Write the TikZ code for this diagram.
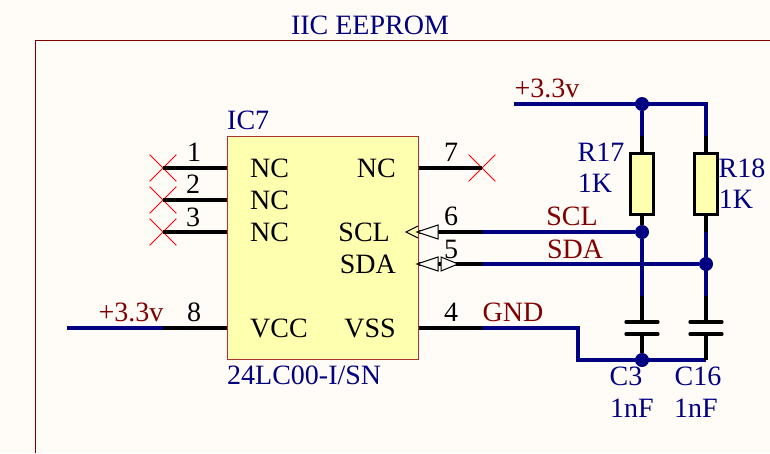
\documentclass[tikz,border=0pt]{standalone}
\usepackage{fontspec}
\setmainfont{Liberation Serif}
\usetikzlibrary{shapes.misc,calc}

\definecolor{paper}{HTML}{FFFCF8}
\definecolor{wireblue}{HTML}{000080}
\definecolor{netred}{HTML}{800000}
\definecolor{chipfill}{HTML}{FFFFB0}
\definecolor{chipedge}{HTML}{AA3333}

\begin{document}
\begin{tikzpicture}[x=1pt,y=-1pt]
    \tikzstyle{every node}=[inner sep=0pt,font=\fontsize{28}{28}\selectfont,
                            text height=18pt,text depth=0pt]
    \tikzstyle{wire}=[draw=wireblue,line width=3.3pt]
    \tikzstyle{pinline}=[draw=black,line width=3.3pt]
    \tikzstyle{plate}=[draw=black,line width=3.3pt,line cap=round]
    \tikzstyle{pinarrow}=[draw=black,line width=1pt,fill=paper]
    \tikzstyle{chip}=[draw=chipedge,line width=1pt,fill=chipfill,minimum width=191pt,minimum height=223pt,text height=,text depth=]
    \tikzstyle{resbody}=[draw=black,line width=3.3pt,fill=chipfill,minimum width=23pt,minimum height=61pt,text height=,text depth=]
    \tikzstyle{nocross}=[cross out,draw=red,line width=.8pt,minimum size=26pt,text height=,text depth=]
    \tikzstyle{junction}=[circle,fill=wireblue,minimum size=14pt,text height=,text depth=]
    \tikzstyle{partlabel}=[text=wireblue]
    \tikzstyle{netlabel}=[text=netred]

    \useasboundingbox[fill=paper] (0,0) rectangle (770,453);

    % Draw sheet frame and title
    \coordinate (frametr) at (770,40.5);
    \coordinate (frametl) at (35,40.5);
    \coordinate (framebl) at (35,453);
    \draw[draw=netred,line width=1pt] (frametr) -- (frametl) -- (framebl);
    \node[partlabel] (title) at (370,25) {IIC EEPROM};

    % Draw chip body
    \node[chip] (ic) at (322.5,247.5) {};
    \node[partlabel,anchor=west] (icname) at (227,120) {IC7};
    \node[partlabel,anchor=west] (icpart) at (227,375) {24LC00-I/SN};

    % Draw pin names inside the chip
    \node[anchor=west] (nc1) at (250,168) {NC};
    \node[anchor=west] (nc2) at (250,200) {NC};
    \node[anchor=west] (nc3) at (250,232) {NC};
    \node[anchor=west] (vcc) at (250,328) {VCC};
    \node[anchor=east] (nc7) at (396,168) {NC};
    \node[anchor=east] (scl) at (390,232) {SCL};
    \node[anchor=east] (sda) at (396,264) {SDA};
    \node[anchor=east] (vss) at (396,328) {VSS};

    % Draw unconnected pins
    \node[nocross] (x1) at (163,168) {};
    \node[nocross] (x2) at (163,200) {};
    \node[nocross] (x3) at (163,232) {};
    \node[nocross] (x7) at (482,168) {};
    \draw[pinline] (x1.center) -- (x1.center -| ic.west);
    \draw[pinline] (x2.center) -- (x2.center -| ic.west);
    \draw[pinline] (x3.center) -- (x3.center -| ic.west);
    \draw[pinline] (x7.center) -- (x7.center -| ic.east);

    % Draw remaining pins
    \coordinate (pin8) at (163,328);
    \coordinate (pin6) at (482,232);
    \coordinate (pin5) at (482,264);
    \coordinate (pin4) at (482,328);
    \draw[pinline] (pin8) -- (pin8 -| ic.west);
    \draw[pinline] (pin6) -- (pin6 -| ic.east);
    \draw[pinline] (pin5) -- (pin5 -| ic.east);
    \draw[pinline] (pin4) -- (pin4 -| ic.east);

    % Draw pin direction marks
    \draw[pinarrow] (417,232) -- (438,225) -- (438,239) -- cycle;
    \draw[draw=black,line width=1pt] (418,226) -- (406,232) -- (418,238);
    \draw[pinarrow] (417,264) -- (438,257) -- (438,271) -- cycle;
    \draw[pinarrow] (458,264) -- (441,257) -- (441,271) -- cycle;

    % Draw pin numbers
    \node (n1) at (194,152) {1};
    \node (n2) at (193,184) {2};
    \node (n3) at (193,217) {3};
    \node (n8) at (194,312) {8};
    \node (n7) at (451,152) {7};
    \node (n6) at (451,216) {6};
    \node (n5) at (451,249) {5};
    \node (n4) at (451,312) {4};

    % Draw resistors
    \node[resbody] (r17) at (642,184) {};
    \node[resbody] (r18) at (706,184) {};
    \node[partlabel] (r17name) at (601,152) {R17};
    \node[partlabel] (r17val) at (595,183) {1K};
    \node[partlabel] (r18name) at (742,168) {R18};
    \node[partlabel] (r18val) at (736,199) {1K};

    % Draw capacitors
    \coordinate (c3top) at (642,322);
    \coordinate (c3bot) at (642,334);
    \coordinate (c16top) at (706,322);
    \coordinate (c16bot) at (706,334);
    \draw[plate] ($(c3top)+(-16,0)$) -- ($(c3top)+(16,0)$);
    \draw[plate] ($(c3bot)+(-16,0)$) -- ($(c3bot)+(16,0)$);
    \draw[plate] ($(c16top)+(-16,0)$) -- ($(c16top)+(16,0)$);
    \draw[plate] ($(c16bot)+(-16,0)$) -- ($(c16bot)+(16,0)$);
    \node[partlabel] (c3name) at (626,376) {C3};
    \node[partlabel] (c3val) at (632,408) {1nF};
    \node[partlabel] (c16name) at (698,376) {C16};
    \node[partlabel] (c16val) at (696,408) {1nF};

    % Draw nets
    \coordinate (vddl) at (67,328);
    \coordinate (vddr) at (514,104);
    \coordinate (vddcorner) at (706,104);
    \coordinate (gndknee) at (578,328);
    \coordinate (gndleft) at (578,360);
    \coordinate (gndright) at (706,360);
    \node[junction] (jvdd) at (642,104) {};
    \node[junction] (jscl) at (642,232) {};
    \node[junction] (jsda) at (706,264) {};
    \node[junction] (jgnd) at (642,360) {};
    \draw[wire] (vddl) -- (pin8);
    \draw[wire] (vddr) -- (vddcorner) -- (706,136);
    \draw[wire] (jvdd) -- (642,136);
    \draw[wire] (pin6) -- (jscl);
    \draw[wire] (pin5) -- (jsda);
    \draw[wire] (jscl) -- (642,296);
    \draw[wire] (706,232) -- (706,296);
    \draw[wire,line join=miter] (pin4) -- (gndknee) -- (gndleft) -- (gndright);
    \draw[pinline] (642,136) -- (r17.north);
    \draw[pinline] (706,136) -- (r18.north);
    \draw[pinline] (r17.south) -- (jscl);
    \draw[pinline] (r18.south) -- (706,232);
    \draw[pinline] (642,296) -- (c3top);
    \draw[pinline] (706,296) -- (c16top);
    \draw[pinline] (c3bot) -- (jgnd);
    \draw[pinline] (c16bot) -- (gndright);

    % Draw net labels
    \node[netlabel] (vddlabel1) at (131,312) {+3.3v};
    \node[netlabel] (vddlabel2) at (547,88) {+3.3v};
    \node[netlabel] (scllabel) at (572,216) {SCL};
    \node[netlabel] (sdalabel) at (575,249) {SDA};
    \node[netlabel] (gndlabel) at (513,312) {GND};
\end{tikzpicture}
\end{document}
